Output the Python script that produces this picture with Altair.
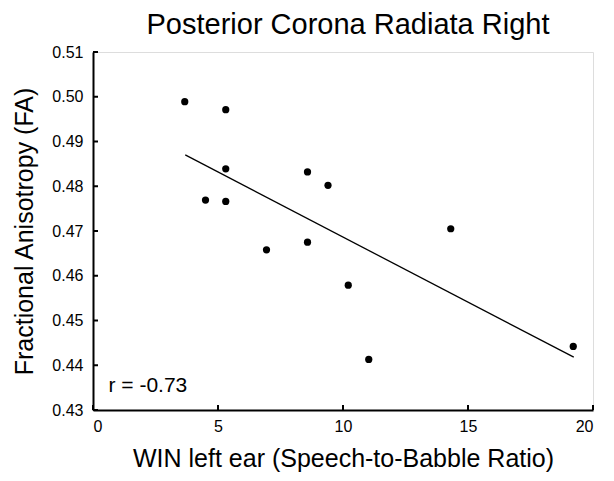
import altair as alt
import pandas as pd

# Scatter data (WIN left ear SNR, FA)
win_left = [3.67, 5.31, 5.31, 4.50, 5.31, 8.58, 8.58, 6.94, 9.40, 14.31, 10.21, 11.03, 19.21]
fa_values = [0.4989, 0.4971, 0.4839, 0.4769, 0.4766, 0.4832, 0.4675, 0.4658, 0.4802, 0.4705, 0.4579, 0.4413, 0.4442]

# Regression line end points
fit_x = [3.69, 19.23]
fit_y = [0.4870, 0.4418]

# Tick values
x_ticks = [0, 5, 10, 15, 20]
y_ticks = [0.43, 0.44, 0.45, 0.46, 0.47, 0.48, 0.49, 0.50, 0.51]

# Annotation
r_label = ["r = -0.73"]
r_pos_x = [0.62]
r_pos_y = [0.4341]

FONT = "Liberation Sans"
W, H = 500, 358

pts = pd.DataFrame({"x": win_left, "y": fa_values})
fit = pd.DataFrame({"x": fit_x, "y": fit_y})
xt = pd.DataFrame({"t": x_ticks})
yt = pd.DataFrame({"t": y_ticks})
ann = pd.DataFrame({"x": r_pos_x, "y": r_pos_y, "label": r_label})

xscale = alt.Scale(domain=[0, 20], nice=False, zero=False)
yscale = alt.Scale(domain=[0.43, 0.51], nice=False, zero=False)

xaxis = alt.Axis(
    title="WIN left ear (Speech-to-Babble Ratio)",
    values=x_ticks, format="d", ticks=False, grid=False,
    labelFontSize=16, labelPadding=8, titleFontSize=25, titlePadding=12,
    domainColor="black", domainWidth=2, labelColor="black", titleColor="black",
    labelFont=FONT, titleFont=FONT, titleFontWeight="normal",
)
yaxis = alt.Axis(
    title="Fractional Anisotropy (FA)",
    values=y_ticks, format=".2f", ticks=False, grid=False,
    labelFontSize=16, labelPadding=10, titleFontSize=25, titlePadding=14,
    domainColor="black", domainWidth=2, labelColor="black", titleColor="black",
    labelFont=FONT, titleFont=FONT, titleFontWeight="normal",
)

points = alt.Chart(pts).mark_circle(size=52, color="black", opacity=1).encode(
    x=alt.X("x:Q", scale=xscale, axis=xaxis),
    y=alt.Y("y:Q", scale=yscale, axis=yaxis),
)

line = alt.Chart(fit).mark_line(color="black", strokeWidth=1.3).encode(
    x=alt.X("x:Q", scale=xscale),
    y=alt.Y("y:Q", scale=yscale),
)

xtick_marks = alt.Chart(xt).mark_rule(color="black", strokeWidth=2).encode(
    x=alt.X("t:Q", scale=xscale),
    y=alt.value(H),
    y2=alt.value(H - 5),
)

ytick_marks = alt.Chart(yt).mark_rule(color="black", strokeWidth=2).encode(
    y=alt.Y("t:Q", scale=yscale),
    x=alt.value(0),
    x2=alt.value(5),
)

text = alt.Chart(ann).mark_text(
    align="left", baseline="alphabetic", fontSize=21, font=FONT, color="black"
).encode(
    x=alt.X("x:Q", scale=xscale),
    y=alt.Y("y:Q", scale=yscale),
    text="label:N",
)

chart = alt.layer(line, points, xtick_marks, ytick_marks, text).properties(
    width=W,
    height=H,
    title=alt.TitleParams(
        "Posterior Corona Radiata Right", fontSize=29, font=FONT,
        fontWeight="normal", color="black", anchor="middle", offset=4, dx=5,
    ),
    autosize=alt.AutoSizeParams(type="none"),
    padding={"left": 85, "top": 44, "right": 13, "bottom": 63},
).configure_view(stroke=None).configure(background="white")

chart.save("out.html", embed_options={"renderer": "svg", "actions": False})
